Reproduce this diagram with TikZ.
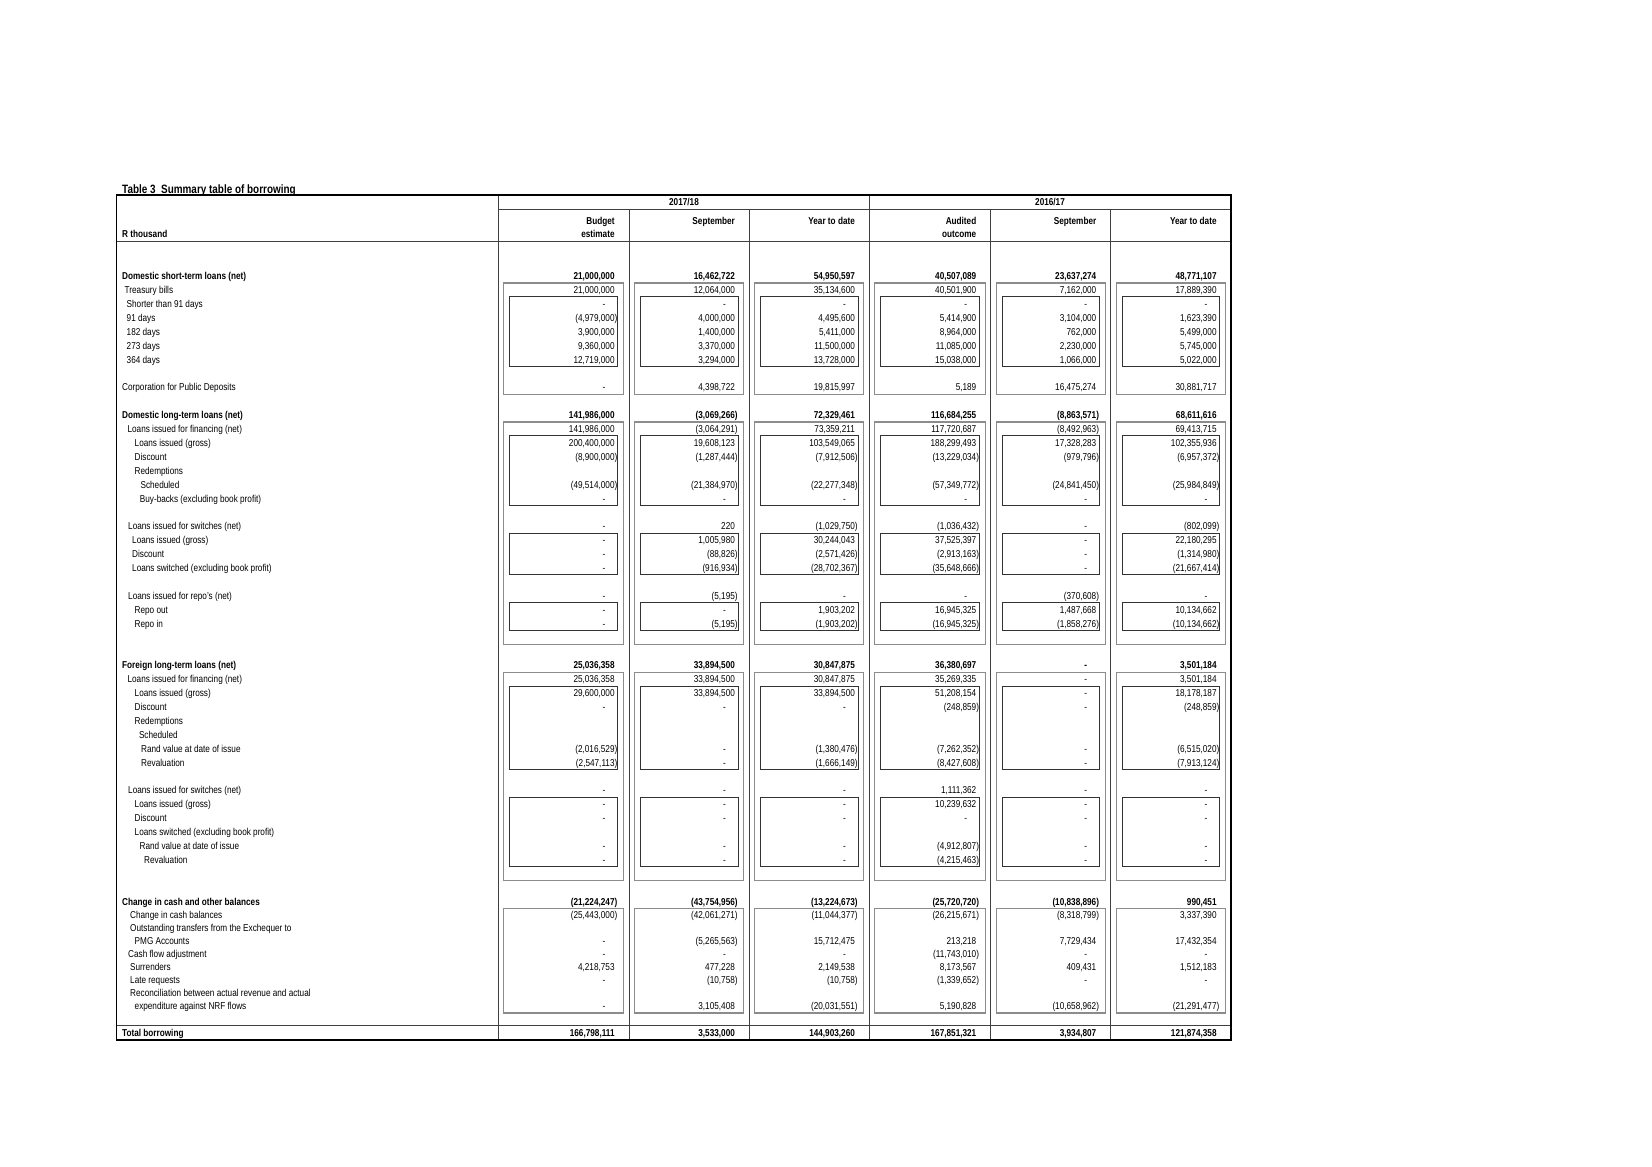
\documentclass[tikz,border=0pt]{standalone}
\usepackage{fontspec}
\setmainfont{Liberation Sans}[FakeStretch=0.82]
\usetikzlibrary{positioning}

% amounts in accounting format: (neg), dash for nil
\newcommand{\amt}[1]{\amtparse#1\relax}
\def\amtparse#1#2\relax{\ifx-#1-\phantom{00)}\else\ifx(#1(#2\else#1#2\phantom{)}\fi\fi}
\newcommand{\amtrow}[9][]{%
  \node[amt,#1] (#2-1) at (617.5,#3) {\amt{#4}};
  \node[amt,#1] (#2-2) at (737.8,#3) {\amt{#5}};
  \node[amt,#1] (#2-3) at (857.8,#3) {\amt{#6}};
  \node[amt,#1] (#2-4) at (979.2,#3) {\amt{#7}};
  \node[amt,#1] (#2-5) at (1099.2,#3) {\amt{#8}};
  \node[amt,#1] (#2-6) at (1219.5,#3) {\amt{#9}};}

\begin{document}
\begin{tikzpicture}[x=1pt,y=-1pt,
    amt/.style={anchor=base east,inner sep=0pt,yshift=-3.6pt},
    lbl/.style={anchor=base west,inner sep=0pt,yshift=-3.6pt},
    head/.style={anchor=base,inner sep=0pt,yshift=-3.6pt,font=\bfseries},
    frame/.style={line width=1.4pt},
    rule/.style={line width=0.8pt,black!75},
    outer box/.style={line width=1.1pt,black!45},
    inner box/.style={line width=0.7pt,black!80}]

  \useasboundingbox (0,0) rectangle (1652,1167);
  \fill[white] (0,0) rectangle (1652,1167);

  \node[lbl,yshift=0pt,font=\fontsize{12.1}{14}\selectfont\bfseries] (title) at (122,189.6) {Table 3\ \ Summary table of borrowing};

  % grid
  \draw[rule] (498.3,195) -- (498.3,1040);
  \draw[rule] (869.3,195) -- (869.3,1040);
  \foreach \x in {629,749.3,990.7,1110.7}
    \draw[rule] (\x,209.3) -- (\x,1040);
  \draw[rule] (498.3,209.3) -- (1231,209.3);
  \draw[rule] (116.7,241.7) -- (1231,241.7);
  \draw[rule] (116.7,1025) -- (1231,1025);
  \draw[frame] (116.7,195) rectangle (1231,1040);

  % boxes in every column
  \foreach \l/\r in {498.3/629,629/749.3,749.3/869.3,869.3/990.7,990.7/1110.7,1110.7/1231}{
    \foreach \t/\b in {283/394.1,422/644.3,672.1/880.6,908.5/1013}
      \draw[outer box] (\l+5.5,\t) rectangle (\r-5.5,\b);
    \foreach \t/\b in {296.8/366.3,435.8/505.3,533.1/574.8,602.6/630.4,686/769.5,797.2/866.7}
      \draw[inner box] (\l+11.3,\t) rectangle (\r-11.3,\b);
  }

  % headings
  \node[head] (y1) at (684,202) {2017/18};
  \node[head] (y2) at (1050,202) {2016/17};
  \node[lbl,font=\bfseries] (unit) at (122,234) {R thousand};
  \node[amt,font=\bfseries] (h1) at (617.5,221.3) {Budget\phantom{)}};
  \node[amt,font=\bfseries] (h1b) at (617.5,234) {estimate\phantom{)}};
  \node[amt,font=\bfseries] (h2) at (737.8,221.3) {September\phantom{)}};
  \node[amt,font=\bfseries] (h3) at (857.8,221.3) {Year to date\phantom{)}};
  \node[amt,font=\bfseries] (h4) at (979.2,221.3) {Audited\phantom{)}};
  \node[amt,font=\bfseries] (h4b) at (979.2,234) {outcome\phantom{)}};
  \node[amt,font=\bfseries] (h5) at (1099.2,221.3) {September\phantom{)}};
  \node[amt,font=\bfseries] (h6) at (1219.5,221.3) {Year to date\phantom{)}};

  % row labels
  \node[lbl,font=\bfseries] (l0) at (122,276) {Domestic short-term loans (net)};
  \node[lbl] (l1) at (124.5,289.9) {Treasury bills};
  \node[lbl] (l2) at (126.5,303.8) {Shorter than 91 days};
  \node[lbl] (l3) at (126.5,317.7) {91 days};
  \node[lbl] (l4) at (126.5,331.6) {182 days};
  \node[lbl] (l5) at (126.5,345.5) {273 days};
  \node[lbl] (l6) at (126.5,359.4) {364 days};
  \node[lbl] (l8) at (122,387.2) {Corporation for Public Deposits};
  \node[lbl,font=\bfseries] (l10) at (122,415) {Domestic long-term loans (net)};
  \node[lbl] (l11) at (127.4,428.9) {Loans issued for financing (net)};
  \node[lbl] (l12) at (134.5,442.8) {Loans issued (gross)};
  \node[lbl] (l13) at (134.5,456.7) {Discount};
  \node[lbl] (l14) at (134.5,470.6) {Redemptions};
  \node[lbl] (l15) at (140.4,484.5) {Scheduled};
  \node[lbl] (l16) at (139.7,498.4) {Buy-backs (excluding book profit)};
  \node[lbl] (l18) at (128,526.2) {Loans issued for switches (net)};
  \node[lbl] (l19) at (132,540.1) {Loans issued (gross)};
  \node[lbl] (l20) at (132,554) {Discount};
  \node[lbl] (l21) at (132,567.9) {Loans switched (excluding book profit)};
  \node[lbl] (l23) at (128,595.7) {Loans issued for repo's (net)};
  \node[lbl] (l24) at (134.5,609.6) {Repo out};
  \node[lbl] (l25) at (134.5,623.5) {Repo in};
  \node[lbl,font=\bfseries] (l28) at (122,665.2) {Foreign long-term loans (net)};
  \node[lbl] (l29) at (127.4,679.1) {Loans issued for financing (net)};
  \node[lbl] (l30) at (134.5,693) {Loans issued (gross)};
  \node[lbl] (l31) at (134.5,706.9) {Discount};
  \node[lbl] (l32) at (134.5,720.8) {Redemptions};
  \node[lbl] (l33) at (138.8,734.7) {Scheduled};
  \node[lbl] (l34) at (141,748.6) {Rand value at date of issue};
  \node[lbl] (l35) at (141,762.5) {Revaluation};
  \node[lbl] (l37) at (128,790.3) {Loans issued for switches (net)};
  \node[lbl] (l38) at (134.5,804.2) {Loans issued (gross)};
  \node[lbl] (l39) at (134.5,818.1) {Discount};
  \node[lbl] (l40) at (134.5,832) {Loans switched (excluding book profit)};
  \node[lbl] (l41) at (139.5,845.9) {Rand value at date of issue};
  \node[lbl] (l42) at (144,859.8) {Revaluation};
  \node[lbl,font=\bfseries] (lc0) at (122,902) {Change in cash and other balances};
  \node[lbl] (lc1) at (130,915) {Change in cash balances};
  \node[lbl] (lc2) at (130,928) {Outstanding transfers from the Exchequer to};
  \node[lbl] (lc3) at (134.5,941) {PMG Accounts};
  \node[lbl] (lc4) at (128,954) {Cash flow adjustment};
  \node[lbl] (lc5) at (130,967) {Surrenders};
  \node[lbl] (lc6) at (130,980) {Late requests};
  \node[lbl] (lc7) at (130,993) {Reconciliation between actual revenue and actual};
  \node[lbl] (lc8) at (134.5,1006) {expenditure against NRF flows};
  \node[lbl,font=\bfseries] (ltot) at (122,1033) {Total borrowing};

  % amounts
  \amtrow[font=\bfseries]{r0}{276}{21,000,000}{16,462,722}{54,950,597}{40,507,089}{23,637,274}{48,771,107}
  \amtrow{r1}{289.9}{21,000,000}{12,064,000}{35,134,600}{40,501,900}{7,162,000}{17,889,390}
  \amtrow{r2}{303.8}{-}{-}{-}{-}{-}{-}
  \amtrow{r3}{317.7}{(4,979,000)}{4,000,000}{4,495,600}{5,414,900}{3,104,000}{1,623,390}
  \amtrow{r4}{331.6}{3,900,000}{1,400,000}{5,411,000}{8,964,000}{762,000}{5,499,000}
  \amtrow{r5}{345.5}{9,360,000}{3,370,000}{11,500,000}{11,085,000}{2,230,000}{5,745,000}
  \amtrow{r6}{359.4}{12,719,000}{3,294,000}{13,728,000}{15,038,000}{1,066,000}{5,022,000}
  \amtrow{r8}{387.2}{-}{4,398,722}{19,815,997}{5,189}{16,475,274}{30,881,717}
  \amtrow[font=\bfseries]{r10}{415}{141,986,000}{(3,069,266)}{72,329,461}{116,684,255}{(8,863,571)}{68,611,616}
  \amtrow{r11}{428.9}{141,986,000}{(3,064,291)}{73,359,211}{117,720,687}{(8,492,963)}{69,413,715}
  \amtrow{r12}{442.8}{200,400,000}{19,608,123}{103,549,065}{188,299,493}{17,328,283}{102,355,936}
  \amtrow{r13}{456.7}{(8,900,000)}{(1,287,444)}{(7,912,506)}{(13,229,034)}{(979,796)}{(6,957,372)}
  \amtrow{r15}{484.5}{(49,514,000)}{(21,384,970)}{(22,277,348)}{(57,349,772)}{(24,841,450)}{(25,984,849)}
  \amtrow{r16}{498.4}{-}{-}{-}{-}{-}{-}
  \amtrow{r18}{526.2}{-}{220}{(1,029,750)}{(1,036,432)}{-}{(802,099)}
  \amtrow{r19}{540.1}{-}{1,005,980}{30,244,043}{37,525,397}{-}{22,180,295}
  \amtrow{r20}{554}{-}{(88,826)}{(2,571,426)}{(2,913,163)}{-}{(1,314,980)}
  \amtrow{r21}{567.9}{-}{(916,934)}{(28,702,367)}{(35,648,666)}{-}{(21,667,414)}
  \amtrow{r23}{595.7}{-}{(5,195)}{-}{-}{(370,608)}{-}
  \amtrow{r24}{609.6}{-}{-}{1,903,202}{16,945,325}{1,487,668}{10,134,662}
  \amtrow{r25}{623.5}{-}{(5,195)}{(1,903,202)}{(16,945,325)}{(1,858,276)}{(10,134,662)}
  \amtrow[font=\bfseries]{r28}{665.2}{25,036,358}{33,894,500}{30,847,875}{36,380,697}{-}{3,501,184}
  \amtrow{r29}{679.1}{25,036,358}{33,894,500}{30,847,875}{35,269,335}{-}{3,501,184}
  \amtrow{r30}{693}{29,600,000}{33,894,500}{33,894,500}{51,208,154}{-}{18,178,187}
  \amtrow{r31}{706.9}{-}{-}{-}{(248,859)}{-}{(248,859)}
  \amtrow{r34}{748.6}{(2,016,529)}{-}{(1,380,476)}{(7,262,352)}{-}{(6,515,020)}
  \amtrow{r35}{762.5}{(2,547,113)}{-}{(1,666,149)}{(8,427,608)}{-}{(7,913,124)}
  \amtrow{r37}{790.3}{-}{-}{-}{1,111,362}{-}{-}
  \amtrow{r38}{804.2}{-}{-}{-}{10,239,632}{-}{-}
  \amtrow{r39}{818.1}{-}{-}{-}{-}{-}{-}
  \amtrow{r41}{845.9}{-}{-}{-}{(4,912,807)}{-}{-}
  \amtrow{r42}{859.8}{-}{-}{-}{(4,215,463)}{-}{-}
  \amtrow[font=\bfseries]{c0}{902}{(21,224,247)}{(43,754,956)}{(13,224,673)}{(25,720,720)}{(10,838,896)}{990,451}
  \amtrow{c1}{915}{(25,443,000)}{(42,061,271)}{(11,044,377)}{(26,215,671)}{(8,318,799)}{3,337,390}
  \amtrow{c3}{941}{-}{(5,265,563)}{15,712,475}{213,218}{7,729,434}{17,432,354}
  \amtrow{c4}{954}{-}{-}{-}{(11,743,010)}{-}{-}
  \amtrow{c5}{967}{4,218,753}{477,228}{2,149,538}{8,173,567}{409,431}{1,512,183}
  \amtrow{c6}{980}{-}{(10,758)}{(10,758)}{(1,339,652)}{-}{-}
  \amtrow{c8}{1006}{-}{3,105,408}{(20,031,551)}{5,190,828}{(10,658,962)}{(21,291,477)}
  \amtrow[font=\bfseries]{tot}{1033}{166,798,111}{3,533,000}{144,903,260}{167,851,321}{3,934,807}{121,874,358}
\end{tikzpicture}
\end{document}
